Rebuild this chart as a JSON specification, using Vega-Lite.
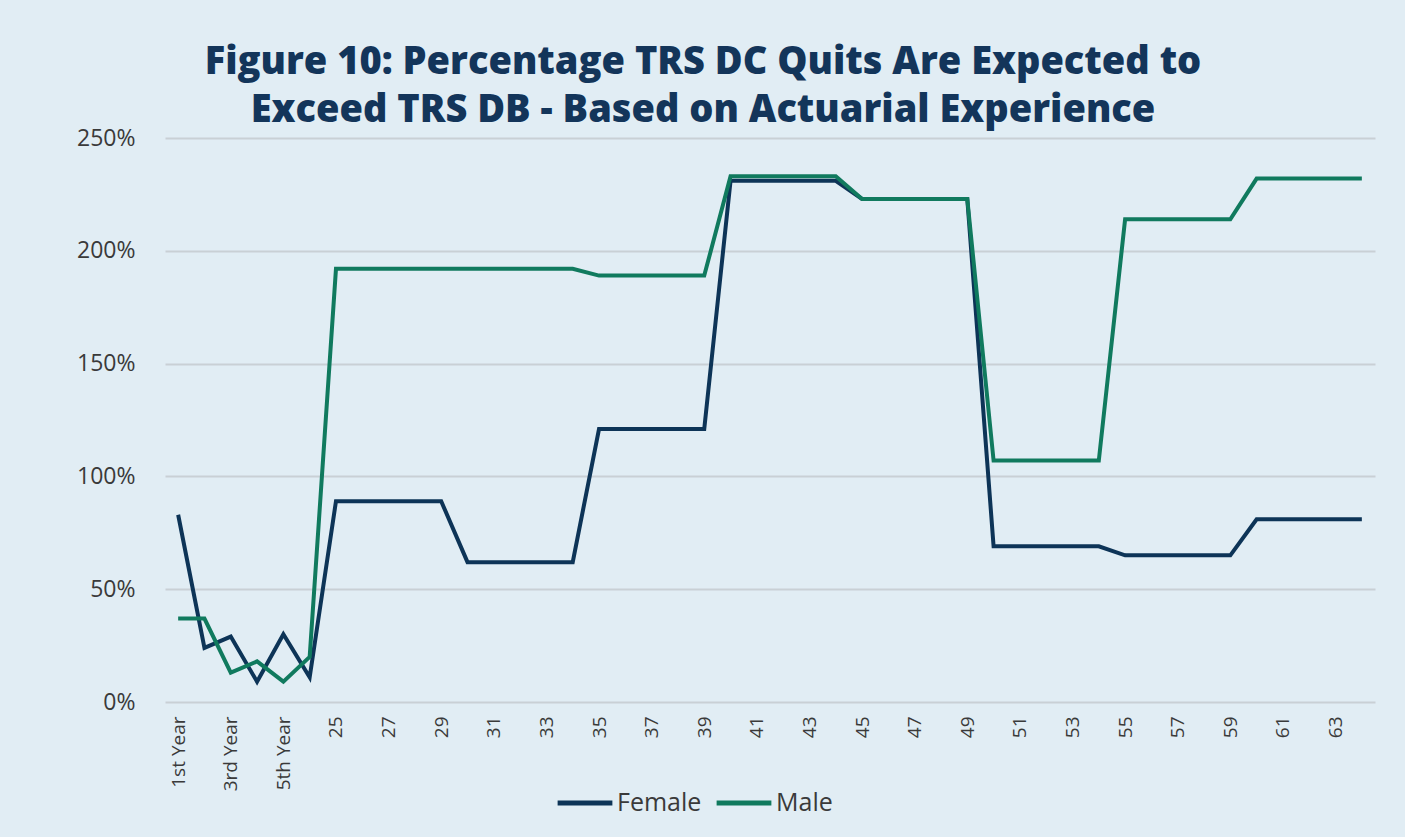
{
  "$schema": "https://vega.github.io/schema/vega-lite/v6.json",
  "width": 1210,
  "height": 564,
  "autosize": {"type": "none"},
  "padding": {"left": 165, "top": 138, "right": 30, "bottom": 135},
  "background": "#e1edf4",
  "title": {
    "text": ["Figure 10: Percentage TRS DC Quits Are Expected to", "Exceed TRS DB - Based on Actuarial Experience"],
    "font": "Open Sans",
    "fontSize": 38,
    "fontWeight": 800,
    "color": "#13355a",
    "lineHeight": 48,
    "anchor": "middle",
    "dx": -67,
    "offset": -3
  },
  "config": {
    "view": {"stroke": null},
    "font": "Open Sans"
  },
  "data": {
    "values": [
      {"age": "1st Year", "sex": "Female", "pct": 83},
      {"age": "2nd Year", "sex": "Female", "pct": 24},
      {"age": "3rd Year", "sex": "Female", "pct": 29},
      {"age": "4th Year", "sex": "Female", "pct": 9},
      {"age": "5th Year", "sex": "Female", "pct": 30},
      {"age": "24", "sex": "Female", "pct": 11},
      {"age": "25", "sex": "Female", "pct": 89},
      {"age": "26", "sex": "Female", "pct": 89},
      {"age": "27", "sex": "Female", "pct": 89},
      {"age": "28", "sex": "Female", "pct": 89},
      {"age": "29", "sex": "Female", "pct": 89},
      {"age": "30", "sex": "Female", "pct": 62},
      {"age": "31", "sex": "Female", "pct": 62},
      {"age": "32", "sex": "Female", "pct": 62},
      {"age": "33", "sex": "Female", "pct": 62},
      {"age": "34", "sex": "Female", "pct": 62},
      {"age": "35", "sex": "Female", "pct": 121},
      {"age": "36", "sex": "Female", "pct": 121},
      {"age": "37", "sex": "Female", "pct": 121},
      {"age": "38", "sex": "Female", "pct": 121},
      {"age": "39", "sex": "Female", "pct": 121},
      {"age": "40", "sex": "Female", "pct": 231},
      {"age": "41", "sex": "Female", "pct": 231},
      {"age": "42", "sex": "Female", "pct": 231},
      {"age": "43", "sex": "Female", "pct": 231},
      {"age": "44", "sex": "Female", "pct": 231},
      {"age": "45", "sex": "Female", "pct": 223},
      {"age": "46", "sex": "Female", "pct": 223},
      {"age": "47", "sex": "Female", "pct": 223},
      {"age": "48", "sex": "Female", "pct": 223},
      {"age": "49", "sex": "Female", "pct": 223},
      {"age": "50", "sex": "Female", "pct": 69},
      {"age": "51", "sex": "Female", "pct": 69},
      {"age": "52", "sex": "Female", "pct": 69},
      {"age": "53", "sex": "Female", "pct": 69},
      {"age": "54", "sex": "Female", "pct": 69},
      {"age": "55", "sex": "Female", "pct": 65},
      {"age": "56", "sex": "Female", "pct": 65},
      {"age": "57", "sex": "Female", "pct": 65},
      {"age": "58", "sex": "Female", "pct": 65},
      {"age": "59", "sex": "Female", "pct": 65},
      {"age": "60", "sex": "Female", "pct": 81},
      {"age": "61", "sex": "Female", "pct": 81},
      {"age": "62", "sex": "Female", "pct": 81},
      {"age": "63", "sex": "Female", "pct": 81},
      {"age": "64", "sex": "Female", "pct": 81},
      {"age": "1st Year", "sex": "Male", "pct": 37},
      {"age": "2nd Year", "sex": "Male", "pct": 37},
      {"age": "3rd Year", "sex": "Male", "pct": 13},
      {"age": "4th Year", "sex": "Male", "pct": 18},
      {"age": "5th Year", "sex": "Male", "pct": 9},
      {"age": "24", "sex": "Male", "pct": 20},
      {"age": "25", "sex": "Male", "pct": 192},
      {"age": "26", "sex": "Male", "pct": 192},
      {"age": "27", "sex": "Male", "pct": 192},
      {"age": "28", "sex": "Male", "pct": 192},
      {"age": "29", "sex": "Male", "pct": 192},
      {"age": "30", "sex": "Male", "pct": 192},
      {"age": "31", "sex": "Male", "pct": 192},
      {"age": "32", "sex": "Male", "pct": 192},
      {"age": "33", "sex": "Male", "pct": 192},
      {"age": "34", "sex": "Male", "pct": 192},
      {"age": "35", "sex": "Male", "pct": 189},
      {"age": "36", "sex": "Male", "pct": 189},
      {"age": "37", "sex": "Male", "pct": 189},
      {"age": "38", "sex": "Male", "pct": 189},
      {"age": "39", "sex": "Male", "pct": 189},
      {"age": "40", "sex": "Male", "pct": 233},
      {"age": "41", "sex": "Male", "pct": 233},
      {"age": "42", "sex": "Male", "pct": 233},
      {"age": "43", "sex": "Male", "pct": 233},
      {"age": "44", "sex": "Male", "pct": 233},
      {"age": "45", "sex": "Male", "pct": 223},
      {"age": "46", "sex": "Male", "pct": 223},
      {"age": "47", "sex": "Male", "pct": 223},
      {"age": "48", "sex": "Male", "pct": 223},
      {"age": "49", "sex": "Male", "pct": 223},
      {"age": "50", "sex": "Male", "pct": 107},
      {"age": "51", "sex": "Male", "pct": 107},
      {"age": "52", "sex": "Male", "pct": 107},
      {"age": "53", "sex": "Male", "pct": 107},
      {"age": "54", "sex": "Male", "pct": 107},
      {"age": "55", "sex": "Male", "pct": 214},
      {"age": "56", "sex": "Male", "pct": 214},
      {"age": "57", "sex": "Male", "pct": 214},
      {"age": "58", "sex": "Male", "pct": 214},
      {"age": "59", "sex": "Male", "pct": 214},
      {"age": "60", "sex": "Male", "pct": 232},
      {"age": "61", "sex": "Male", "pct": 232},
      {"age": "62", "sex": "Male", "pct": 232},
      {"age": "63", "sex": "Male", "pct": 232},
      {"age": "64", "sex": "Male", "pct": 232}
    ]
  },
  "mark": {"type": "line", "strokeWidth": 4},
  "encoding": {
    "x": {
      "field": "age",
      "type": "ordinal",
      "sort": null,
      "scale": {"type": "point", "padding": 0.5},
      "axis": {
        "title": null,
        "values": ["1st Year", "3rd Year", "5th Year", "25", "27", "29", "31", "33", "35", "37", "39", "41", "43", "45", "47", "49", "51", "53", "55", "57", "59", "61", "63"],
        "labelAngle": -90,
        "labelAlign": "right",
        "labelBaseline": "middle",
        "labelFontSize": 19,
        "labelColor": "#3a3a3a",
        "labelPadding": 14,
        "domain": false,
        "ticks": false,
        "grid": false
      }
    },
    "y": {
      "field": "pct",
      "type": "quantitative",
      "scale": {"domain": [0, 250]},
      "axis": {
        "title": null,
        "values": [0, 50, 100, 150, 200, 250],
        "labelExpr": "datum.value + '%'",
        "labelFontSize": 23,
        "labelColor": "#3a3a3a",
        "labelPadding": 30,
        "domain": false,
        "ticks": false,
        "gridColor": "#c9d0d5",
        "gridWidth": 2
      }
    },
    "color": {
      "field": "sex",
      "type": "nominal",
      "scale": {"domain": ["Female", "Male"], "range": ["#0d3457", "#107a5e"]},
      "legend": {
        "title": null,
        "orient": "none",
        "legendX": 390,
        "legendY": 635,
        "direction": "horizontal",
        "symbolType": "stroke",
        "symbolSize": 3000,
        "symbolStrokeWidth": 5,
        "labelFontSize": 25,
        "labelColor": "#3a3a3a",
        "labelOffset": 2,
        "columnPadding": 4
      }
    }
  }
}
